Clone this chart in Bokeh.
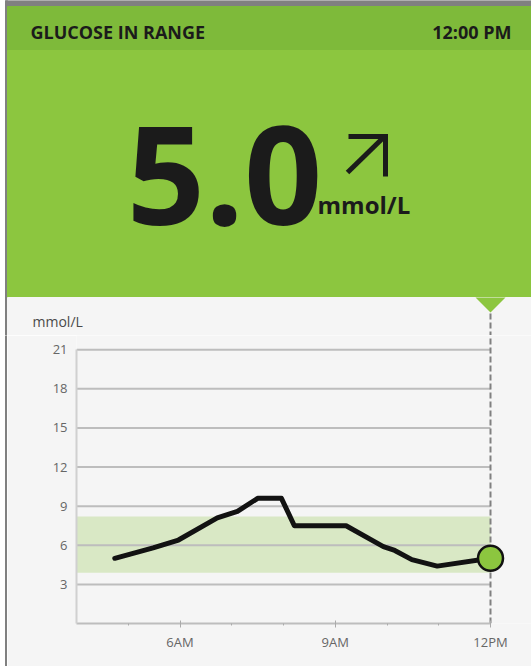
from bokeh.plotting import figure
from bokeh.layouts import column, row
from bokeh.models import Range1d, FixedTicker
from bokeh.core.properties import value
from bokeh.embed import file_html
from bokeh.resources import INLINE

# ---------------- data ----------------
TITLE = "GLUCOSE IN RANGE"
TIME_LABEL = "12:00 PM"
CURRENT_VALUE = 5.0
UNIT = "mmol/L"

hours = [4.74, 5.48, 5.97, 6.72, 7.11, 7.50, 7.96, 8.21, 9.21, 9.93, 10.15, 10.48, 10.97, 12.0]
glucose = [5.0, 5.8, 6.4, 8.1, 8.6, 9.6, 9.6, 7.5, 7.5, 5.9, 5.6, 4.9, 4.4, 5.0]
target_range = [3.9, 8.2]
y_ticks = [3, 6, 9, 12, 15, 18, 21]
x_ticks = [6, 9, 12]
x_tick_labels = ["6AM", "9AM", "12PM"]
x_minor_ticks = [5, 7, 8, 10, 11]
x_bounds = [4, 12]
now_hour = 12

# ---------------- styling / layout (pixels) ----------------
W = 531
H = 666
TOP_H = 335            # header + pointer strip
CHART_H = H - TOP_H
EDGE_W = 7             # grey left edge strip
FRAME_LEFT = 76        # page x of the 4AM / y-axis line
FRAME_H = 288
PX_PER_HOUR = 51.75
PX_PER_UNIT = 13.04
NOW_X = FRAME_LEFT + (now_hour - x_bounds[0]) * PX_PER_HOUR

GREEN = "#8cc63f"
GREEN_DARK = "#7eba3a"
EDGE = "#808080"
INK = "#1b1b1b"
BG = "#f5f5f5"
FONT = "Open Sans"

# ---------------- header (pixel coordinates, y down) ----------------
header = figure(width=W, height=TOP_H, x_range=Range1d(0, W), y_range=Range1d(TOP_H, 0),
                output_backend="svg", toolbar_location=None, x_axis_type=None, y_axis_type=None,
                min_border=0)
header.frame_align = False
header.background_fill_color = "white"
header.border_fill_color = "white"
header.outline_line_color = None
header.grid.visible = False

header.quad(left=[5], right=[W], top=[0], bottom=[6], color=EDGE)
header.quad(left=[5], right=[7], top=[0], bottom=[TOP_H], color=EDGE)
header.quad(left=[7], right=[W], top=[6], bottom=[50], color=GREEN_DARK)
header.quad(left=[7], right=[W], top=[50], bottom=[297], color=GREEN)
header.quad(left=[7], right=[W], top=[297], bottom=[TOP_H], color=BG)

header.text(x=[30], y=[31], text=[TITLE], text_font=value(FONT), text_font_style="bold",
            text_font_size="18px", text_baseline="middle", text_align="left", text_color=INK)
header.text(x=[511], y=[31], text=[TIME_LABEL], text_font=value(FONT), text_font_style="bold",
            text_font_size="18px", text_baseline="middle", text_align="right", text_color=INK)

header.text(x=[224], y=[175], text=[f"{CURRENT_VALUE:.1f}"], text_font=value(FONT),
            text_font_style="bold", text_font_size="137px", text_baseline="middle",
            text_align="center", text_color=INK)
header.text(x=[317], y=[204], text=[UNIT], text_font=value(FONT), text_font_style="bold",
            text_font_size="24px", text_baseline="middle", text_align="left", text_color=INK)

# trend arrow (rising)
header.line(x=[347, 384], y=[172, 136], line_width=5, line_color=INK)
header.line(x=[348, 385, 385], y=[136, 136, 176], line_width=5, line_color=INK, line_join="miter")

# pointer triangle, start of the "now" marker, unit label
header.patch(x=[NOW_X - 15, NOW_X + 15, NOW_X], y=[297, 297, 312], fill_color=GREEN, line_color=None)
header.segment(x0=[NOW_X], x1=[NOW_X], y0=[313], y1=[TOP_H], line_color="#808080",
               line_width=2, line_dash="6 3")
header.text(x=[32], y=[321], text=[UNIT], text_font=value(FONT), text_font_size="14px",
            text_baseline="middle", text_align="left", text_color="#4a4a4a")

# ---------------- left edge strip ----------------
edge = figure(width=EDGE_W, height=CHART_H, x_range=Range1d(0, EDGE_W), y_range=Range1d(0, CHART_H),
              output_backend="svg", toolbar_location=None, x_axis_type=None, y_axis_type=None,
              min_border=0)
edge.frame_align = False
edge.background_fill_color = "white"
edge.border_fill_color = "white"
edge.outline_line_color = None
edge.grid.visible = False
edge.quad(left=[5], right=[7], bottom=[0], top=[CHART_H], color=EDGE)

# ---------------- chart ----------------
chart_w = W - EDGE_W
frame_left = FRAME_LEFT - EDGE_W
x_end = x_bounds[0] + (chart_w - frame_left) / PX_PER_HOUR
y_top = FRAME_H / PX_PER_UNIT
chart = figure(width=chart_w, height=CHART_H, x_range=Range1d(x_bounds[0], x_end),
               y_range=Range1d(0, y_top), output_backend="svg", toolbar_location=None,
               min_border_left=frame_left, min_border_right=0, min_border_top=0,
               min_border_bottom=CHART_H - FRAME_H)
chart.frame_align = False
chart.background_fill_color = BG
chart.border_fill_color = BG
chart.outline_line_color = None
chart.xgrid.visible = False
chart.ygrid.visible = False

# target range band
chart.quad(left=[x_bounds[0]], right=[x_bounds[1]], bottom=[target_range[0]], top=[target_range[1]],
           fill_color="#d9e8c5", line_color=None)

# horizontal grid lines
chart.segment(x0=[x_bounds[0]] * len(y_ticks), x1=[x_bounds[1]] * len(y_ticks), y0=y_ticks, y1=y_ticks,
              line_color="#bdbdbd", line_width=2)

# "now" dashed marker
chart.segment(x0=[now_hour], x1=[now_hour], y0=[0], y1=[y_top], line_color="#808080",
              line_width=2, line_dash="6 3")

# glucose trace
chart.line(hours, glucose, line_width=5, line_color="#121212", line_join="round", line_cap="round")
chart.scatter([hours[-1]], [glucose[-1]], size=25, fill_color=GREEN, line_color="#121212", line_width=2.5)

# axes
xa = chart.xaxis[0]
xa.ticker = FixedTicker(ticks=x_ticks, minor_ticks=x_minor_ticks)
xa.major_label_overrides = dict(zip(x_ticks, x_tick_labels))
xa.bounds = tuple(x_bounds)
xa.axis_line_color = "#bdbdbd"
xa.axis_line_width = 2
xa.major_tick_line_color = "#aaaaaa"
xa.major_tick_in = 3
xa.major_tick_out = 4
xa.minor_tick_line_color = "#aaaaaa"
xa.minor_tick_in = 0
xa.minor_tick_out = 2
xa.major_label_standoff = 5
xa.major_label_text_font = FONT
xa.major_label_text_font_size = "13px"
xa.major_label_text_color = "#666666"

ya = chart.yaxis[0]
ya.ticker = FixedTicker(ticks=y_ticks)
ya.bounds = (0, y_ticks[-1])
ya.axis_line_color = "#d0d0d0"
ya.axis_line_width = 2
ya.major_tick_in = 0
ya.major_tick_out = 0
ya.minor_tick_line_color = None
ya.major_label_standoff = 9
ya.major_label_text_font = FONT
ya.major_label_text_font_size = "13px"
ya.major_label_text_color = "#666666"

layout = column(header, row(edge, chart, spacing=0), spacing=0)
open("out.html", "w").write(file_html(layout, INLINE))
